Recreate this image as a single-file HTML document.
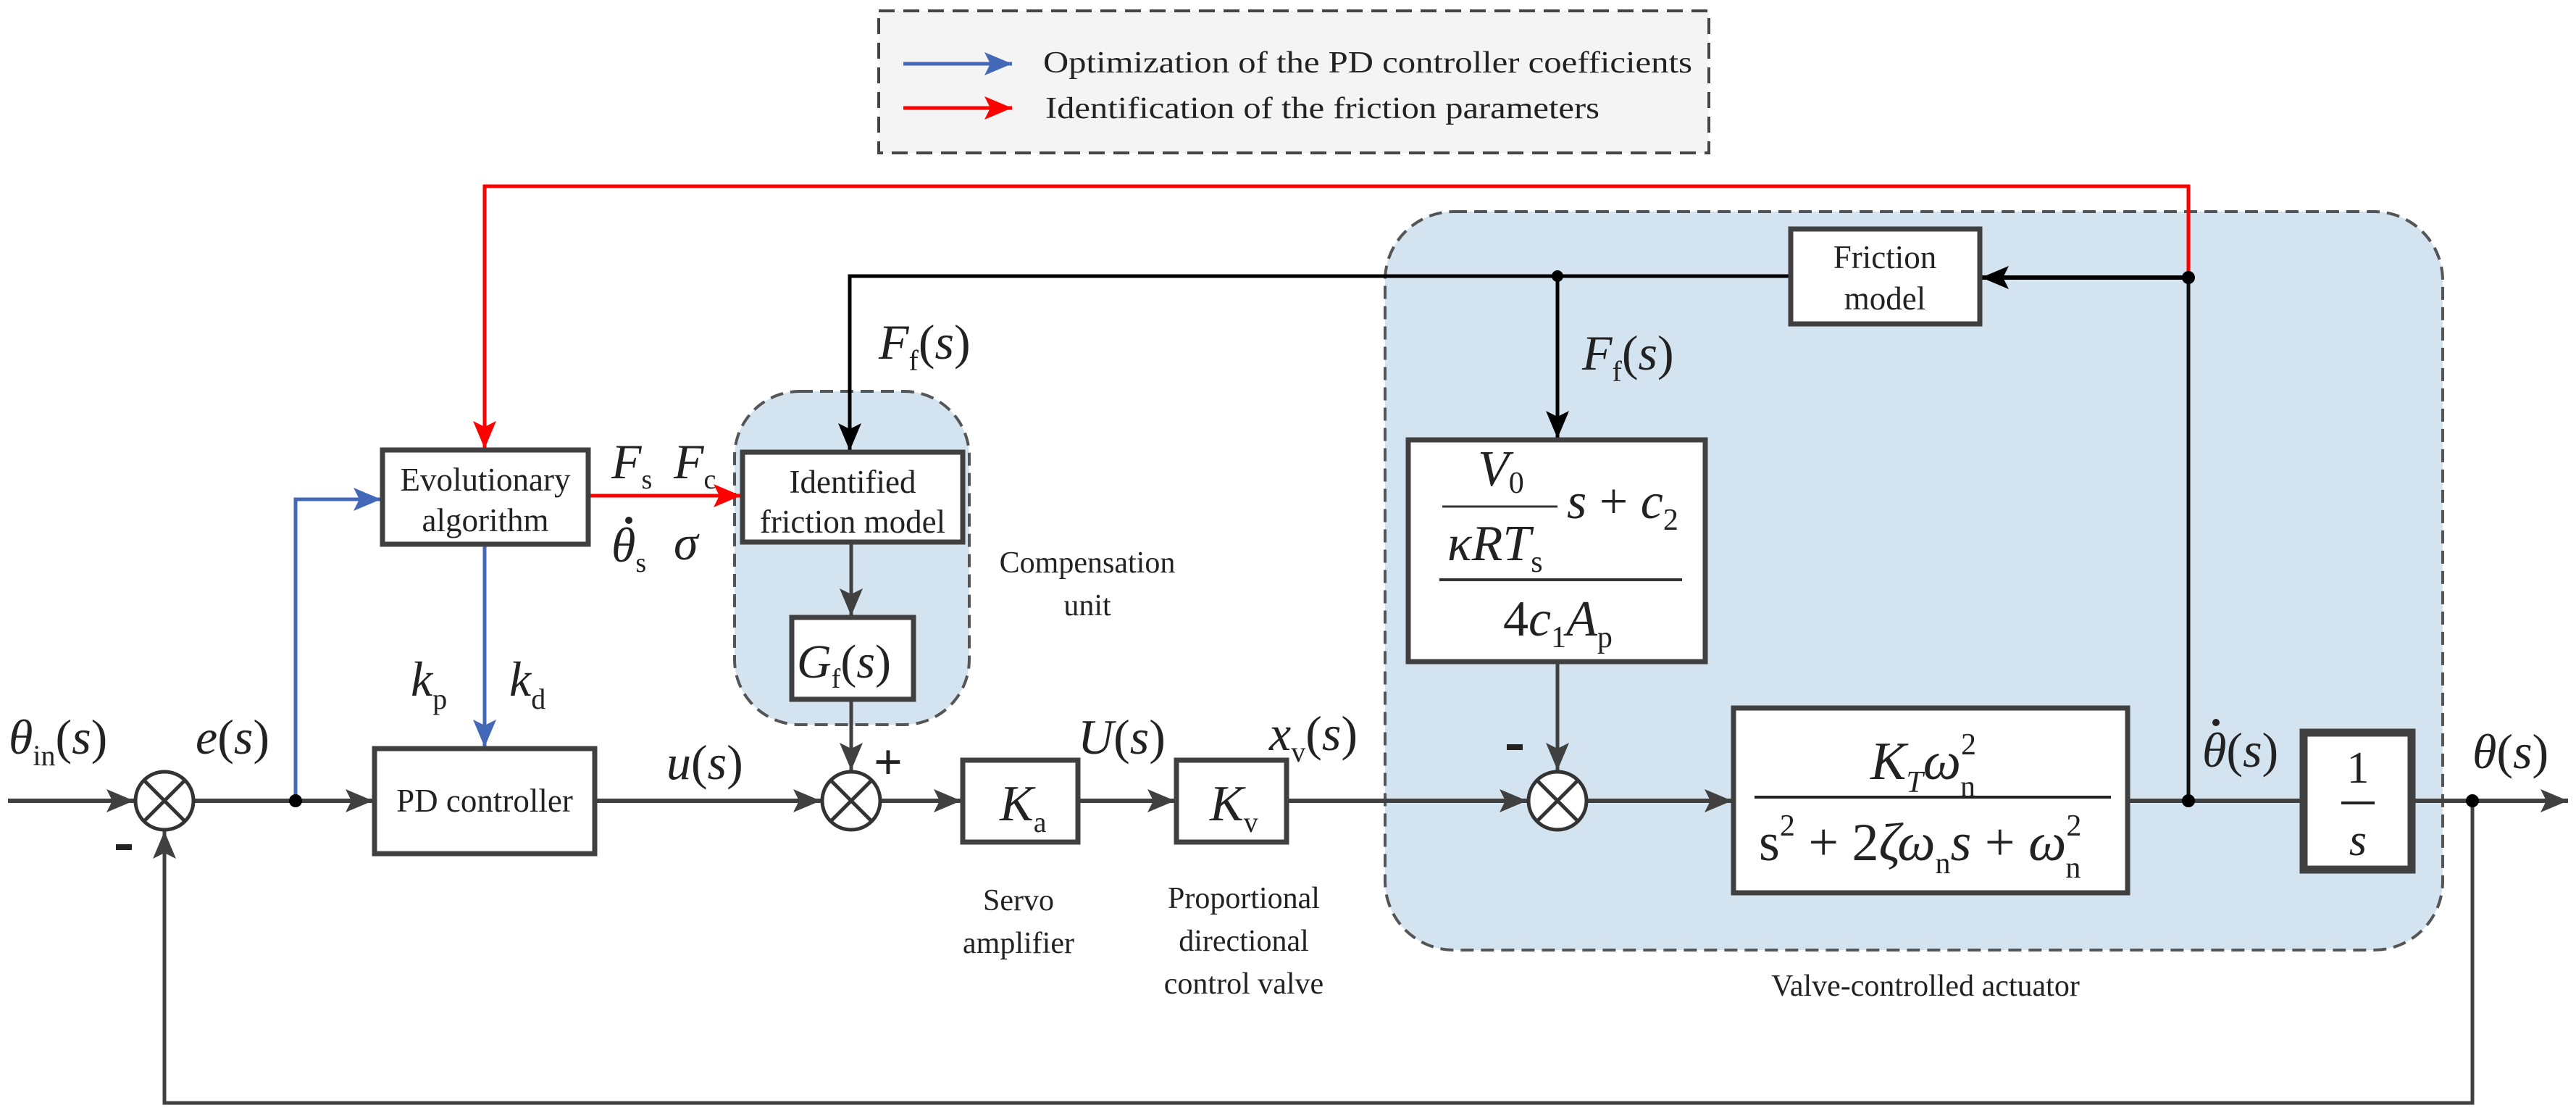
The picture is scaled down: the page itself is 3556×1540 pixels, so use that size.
<!DOCTYPE html>
<html><head><meta charset="utf-8"><style>
html,body{margin:0;padding:0;background:#fff;}
svg{display:block;font-family:"Liberation Serif","Times New Roman",serif;}
svg text, svg tspan{font-family:"Liberation Serif","Times New Roman",serif;}
.t{fill:#222;}
.m{font-style:italic;fill:#222;}
.r{font-style:normal;fill:#222;}
</style></head><body>
<svg width="3556" height="1540" viewBox="0 0 3556 1540" xmlns="http://www.w3.org/2000/svg" font-family="Liberation Serif, serif">
<defs>
<marker id="ag" markerUnits="userSpaceOnUse" markerWidth="40" markerHeight="36" refX="38" refY="18" orient="auto"><path d="M0,2 L38,18 L0,34 L8,18 Z" fill="#404040"/></marker>
<marker id="ak" markerUnits="userSpaceOnUse" markerWidth="40" markerHeight="36" refX="38" refY="18" orient="auto"><path d="M0,2 L38,18 L0,34 L8,18 Z" fill="#000"/></marker>
<marker id="ab" markerUnits="userSpaceOnUse" markerWidth="40" markerHeight="36" refX="38" refY="18" orient="auto"><path d="M0,2 L38,18 L0,34 L8,18 Z" fill="#4468b8"/></marker>
<marker id="ar" markerUnits="userSpaceOnUse" markerWidth="40" markerHeight="36" refX="38" refY="18" orient="auto"><path d="M0,2 L38,18 L0,34 L8,18 Z" fill="#ff0000"/></marker>
</defs>

<!-- legend -->
<rect x="1213" y="15" width="1146" height="196" fill="#f4f4f4" stroke="#444" stroke-width="4" stroke-dasharray="22,12"/>
<line x1="1247" y1="88" x2="1397" y2="88" stroke="#4468b8" stroke-width="5" marker-end="url(#ab)"/>
<line x1="1247" y1="149" x2="1397" y2="149" stroke="#ff0000" stroke-width="5" marker-end="url(#ar)"/>
<text class="t" x="1440" y="100" font-size="42" textLength="896" lengthAdjust="spacingAndGlyphs">Optimization of the PD controller coefficients</text>
<text class="t" x="1443" y="163" font-size="42" textLength="765" lengthAdjust="spacingAndGlyphs">Identification of the friction parameters</text>

<!-- containers -->
<rect x="1912" y="292" width="1460" height="1019" rx="95" ry="95" fill="#d3e3ef" stroke="#555" stroke-width="4" stroke-dasharray="18,10"/>
<rect x="1014" y="540" width="324" height="460" rx="90" ry="90" fill="#d3e3ef" stroke="#555" stroke-width="4" stroke-dasharray="18,10"/>

<!-- red lines -->
<polyline points="3021,383 3021,257 669,257 669,619" fill="none" stroke="#ff0000" stroke-width="5" marker-end="url(#ar)"/>
<line x1="812" y1="684" x2="1023" y2="684" stroke="#ff0000" stroke-width="5" marker-end="url(#ar)"/>

<!-- black friction lines -->
<line x1="3021" y1="383" x2="3021" y2="1105" stroke="#111" stroke-width="5"/>
<line x1="3021" y1="383" x2="2735" y2="383" stroke="#000" stroke-width="6" marker-end="url(#ak)"/>
<polyline points="2472,381 1173,381 1173,622" fill="none" stroke="#000" stroke-width="5" marker-end="url(#ak)"/>
<line x1="2150" y1="381" x2="2150" y2="605" stroke="#000" stroke-width="5" marker-end="url(#ak)"/>
<circle cx="2150" cy="381" r="8" fill="#000"/>
<circle cx="3021" cy="383" r="9" fill="#000"/>

<!-- blue lines -->
<polyline points="408,1105 408,689 526,689" fill="none" stroke="#4468b8" stroke-width="5" marker-end="url(#ab)"/>
<line x1="669" y1="751" x2="669" y2="1031" stroke="#4468b8" stroke-width="5" marker-end="url(#ab)"/>

<!-- main line -->
<g stroke="#404040" stroke-width="6" fill="none">
<line x1="11" y1="1105" x2="185" y2="1105" marker-end="url(#ag)"/>
<line x1="267" y1="1105" x2="515" y2="1105" marker-end="url(#ag)"/>
<line x1="821" y1="1105" x2="1133" y2="1105" marker-end="url(#ag)"/>
<line x1="1215" y1="1105" x2="1327" y2="1105" marker-end="url(#ag)"/>
<line x1="1488" y1="1105" x2="1622" y2="1105" marker-end="url(#ag)"/>
<line x1="1776" y1="1105" x2="2108" y2="1105" marker-end="url(#ag)"/>
<line x1="2190" y1="1105" x2="2391" y2="1105" marker-end="url(#ag)"/>
<line x1="2937" y1="1105" x2="3180" y2="1105"/>
<line x1="3329" y1="1105" x2="3545" y2="1105" marker-end="url(#ag)"/>
<polyline points="3413,1105 3413,1522 227,1522 227,1147" marker-end="url(#ag)" stroke-width="5"/>
<line x1="2150" y1="913" x2="2150" y2="1063" marker-end="url(#ag)" stroke-width="5"/>
<line x1="1175" y1="748" x2="1175" y2="850" marker-end="url(#ag)" stroke-width="5"/>
<line x1="1175" y1="965" x2="1175" y2="1063" marker-end="url(#ag)" stroke-width="5"/>
</g>
<circle cx="408" cy="1105" r="9" fill="#000"/>
<circle cx="3021" cy="1105" r="9" fill="#000"/>
<circle cx="3413" cy="1105" r="9" fill="#000"/>

<!-- summers -->
<g stroke="#333" stroke-width="5" fill="#fff">
<circle cx="227" cy="1105" r="40"/>
<circle cx="1175" cy="1105" r="40"/>
<circle cx="2150" cy="1105" r="40"/>
</g>
<g stroke="#333" stroke-width="5">
<line x1="199" y1="1077" x2="255" y2="1133"/><line x1="255" y1="1077" x2="199" y2="1133"/>
<line x1="1147" y1="1077" x2="1203" y2="1133"/><line x1="1203" y1="1077" x2="1147" y2="1133"/>
<line x1="2122" y1="1077" x2="2178" y2="1133"/><line x1="2178" y1="1077" x2="2122" y2="1133"/>
</g>
<rect x="160" y="1165" width="22" height="8" fill="#222"/>
<rect x="2080" y="1027" width="22" height="8" fill="#222"/>
<text class="r" x="1206" y="1075" font-size="70" font-weight="bold">+</text>

<!-- blocks -->
<g fill="#fff" stroke="#404040" stroke-width="7">
<rect x="528" y="621" width="284" height="130"/>
<rect x="1025" y="624" width="304" height="124"/>
<rect x="1093" y="852" width="168" height="113"/>
<rect x="517" y="1033" width="304" height="145"/>
<rect x="1329" y="1049" width="159" height="113"/>
<rect x="1624" y="1049" width="152" height="113"/>
<rect x="2472" y="316" width="261" height="131"/>
<rect x="1944" y="607" width="410" height="306"/>
<rect x="2393" y="977" width="544" height="255"/>
<rect x="3180" y="1011" width="149" height="189" stroke-width="11"/>
</g>

<!-- block texts -->
<text class="t" x="670" y="677" font-size="45" text-anchor="middle">Evolutionary</text>
<text class="t" x="670" y="733" font-size="45" text-anchor="middle">algorithm</text>
<text class="t" x="1177" y="680" font-size="45" text-anchor="middle">Identified</text>
<text class="t" x="1177" y="735" font-size="45" text-anchor="middle">friction model</text>
<text class="t" x="669" y="1120" font-size="45" text-anchor="middle">PD controller</text>
<text class="t" x="2602" y="370" font-size="45" text-anchor="middle">Friction</text>
<text class="t" x="2602" y="427" font-size="45" text-anchor="middle">model</text>

<text class="m" x="1100" y="935" font-size="66">G<tspan class="r" font-size="38" dy="14">f</tspan><tspan class="r" font-size="66" dy="-14">(</tspan>s<tspan class="r">)</tspan></text>
<text class="m" x="1380" y="1132" font-size="70">K<tspan class="r" font-size="40" dy="16">a</tspan></text>
<text class="m" x="1670" y="1132" font-size="70">K<tspan class="r" font-size="40" dy="16">v</tspan></text>

<!-- fraction block -->
<text class="m" x="2040" y="670" font-size="70">V<tspan class="r" font-size="42" dy="10">0</tspan></text>
<line x1="1991" y1="699" x2="2150" y2="699" stroke="#333" stroke-width="3"/>
<text class="m" x="2163" y="715" font-size="70">s<tspan class="r"> + </tspan>c<tspan class="r" font-size="42" dy="16">2</tspan></text>
<text class="m" x="1998" y="773" font-size="70">κRT<tspan class="r" font-size="42" dy="16">s</tspan></text>
<line x1="1987" y1="800" x2="2322" y2="800" stroke="#333" stroke-width="4"/>
<text class="m" x="2075" y="877" font-size="70"><tspan class="r">4</tspan>c<tspan class="r" font-size="42" dy="16">1</tspan><tspan dy="-16">A</tspan><tspan class="r" font-size="42" dy="16">p</tspan></text>

<!-- big TF -->
<text class="m" x="2582" y="1075" font-size="74">K<tspan font-size="42" dy="18">T</tspan><tspan dy="-18">ω</tspan><tspan class="r" font-size="42" dy="-34">2</tspan><tspan class="r" font-size="42" dx="-22" dy="58">n</tspan></text>
<line x1="2422" y1="1100" x2="2914" y2="1100" stroke="#222" stroke-width="4"/>
<text class="r" x="2428" y="1187" font-size="74">s<tspan font-size="42" dy="-34">2</tspan><tspan dy="34" font-size="74"> + 2</tspan><tspan class="m" font-size="74">ζω</tspan><tspan font-size="42" dy="18">n</tspan><tspan class="m" font-size="74" dy="-18">s</tspan><tspan font-size="74"> + </tspan><tspan class="m" font-size="74">ω</tspan><tspan font-size="42" dy="-34">2</tspan><tspan font-size="42" dx="-22" dy="58">n</tspan></text>

<!-- 1/s -->
<text class="r" x="3255" y="1080" font-size="62" text-anchor="middle">1</text>
<line x1="3232" y1="1108" x2="3278" y2="1108" stroke="#222" stroke-width="4"/>
<text class="m" x="3255" y="1180" font-size="62" text-anchor="middle">s</text>

<!-- signal labels -->
<g font-size="68">
<text class="m" x="12" y="1040">θ<tspan class="r" font-size="40" dy="16">in</tspan><tspan class="r" dy="-16">(</tspan>s<tspan class="r">)</tspan></text>
<text class="m" x="270" y="1040">e<tspan class="r">(</tspan>s<tspan class="r">)</tspan></text>
<text class="m" x="920" y="1075">u<tspan class="r">(</tspan>s<tspan class="r">)</tspan></text>
<text class="m" x="1488" y="1040">U<tspan class="r">(</tspan>s<tspan class="r">)</tspan></text>
<text class="m" x="1752" y="1035">x<tspan class="r" font-size="40" dy="16">v</tspan><tspan class="r" dy="-16">(</tspan>s<tspan class="r">)</tspan></text>
<text class="m" x="3040" y="1058">θ<tspan class="r">(</tspan>s<tspan class="r">)</tspan></text>
<text class="m" x="3413" y="1060">θ<tspan class="r">(</tspan>s<tspan class="r">)</tspan></text>
<text class="m" x="1213" y="495">F<tspan class="r" font-size="40" dy="16">f</tspan><tspan class="r" dy="-16">(</tspan>s<tspan class="r">)</tspan></text>
<text class="m" x="2184" y="510">F<tspan class="r" font-size="40" dy="16">f</tspan><tspan class="r" dy="-16">(</tspan>s<tspan class="r">)</tspan></text>
<text class="m" x="567" y="960">k<tspan class="r" font-size="40" dy="18">p</tspan></text>
<text class="m" x="703" y="960">k<tspan class="r" font-size="40" dy="18">d</tspan></text>
<text class="m" x="844" y="660">F<tspan class="r" font-size="38" dy="14">s</tspan></text>
<text class="m" x="930" y="660">F<tspan class="r" font-size="38" dy="14">c</tspan></text>
<text class="m" x="844" y="775">θ<tspan class="r" font-size="38" dy="14">s</tspan></text>
<text class="m" x="930" y="772">σ</text>
</g>
<circle cx="3059" cy="997" r="5" fill="#222"/>
<circle cx="868" cy="718" r="5" fill="#222"/>

<!-- captions -->
<g class="t" font-size="42" text-anchor="middle">
<text x="1501" y="790">Compensation</text>
<text x="1501" y="849">unit</text>
<text x="1406" y="1256">Servo</text>
<text x="1406" y="1315">amplifier</text>
<text x="1717" y="1253">Proportional</text>
<text x="1717" y="1312">directional</text>
<text x="1717" y="1371">control valve</text>
<text x="2658" y="1374">Valve-controlled actuator</text>
</g>
</svg>
</body></html>
